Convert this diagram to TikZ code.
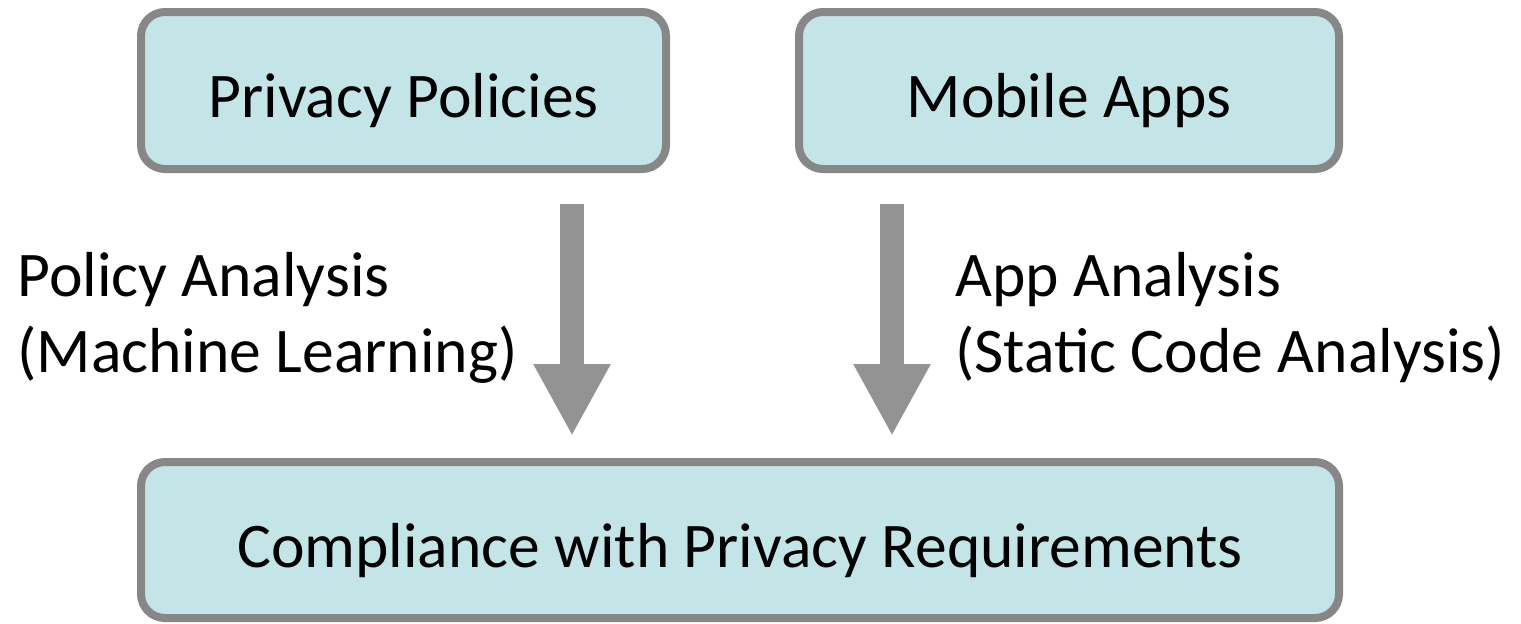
\documentclass[tikz,border=0pt]{standalone}
\usepackage{fontspec}
\setmainfont{Carlito}
\usepackage{tikz}
\usepackage{xcolor}
\usetikzlibrary{arrows.meta}

\definecolor{boxfill}{HTML}{C4E5E8}
\definecolor{boxline}{HTML}{878787}
\definecolor{arrowgray}{HTML}{939393}

\tikzset{
    box/.style={draw=boxline, line width=4pt, fill=boxfill, rounded corners=12pt,
        inner sep=0pt, text height=30pt, text depth=3pt,
        font=\fontsize{31.8pt}{38pt}\selectfont},
    label text/.style={anchor=west, align=left, inner sep=0pt,
        font=\fontsize{31.8pt}{38pt}\selectfont},
    bigarrow/.style={draw=arrowgray, line width=12pt,
        -{Triangle[length=36pt, width=36pt]}}
}

\begin{document}
\begin{tikzpicture}[x=0.5pt, y=-0.5pt]
    \useasboundingbox (0,0) rectangle (1521,623);

    \node[box, minimum width=262.5pt, minimum height=78.5pt] (P) at (403.5,90.5) {Privacy Policies};
    \node[box, minimum width=270pt, minimum height=78.5pt] (M) at (1069,90.5) {Mobile Apps};
    \node[box, minimum width=599pt, minimum height=78pt] (C) at (740,540) {Compliance with Privacy Requirements};

    \coordinate (L) at (572,0);
    \coordinate (R) at (892,0);

    \draw[bigarrow, shorten <=15.5pt, shorten >=11pt] (P.south -| L) -- (C.north -| L);
    \draw[bigarrow, shorten <=15.5pt, shorten >=11pt] (M.south -| R) -- (C.north -| R);

    \node[label text] (PA) at (17,318) {Policy Analysis\\(Machine Learning)};
    \node[label text] (AA) at (955,318) {App Analysis\\(Static Code Analysis)};
\end{tikzpicture}
\end{document}
